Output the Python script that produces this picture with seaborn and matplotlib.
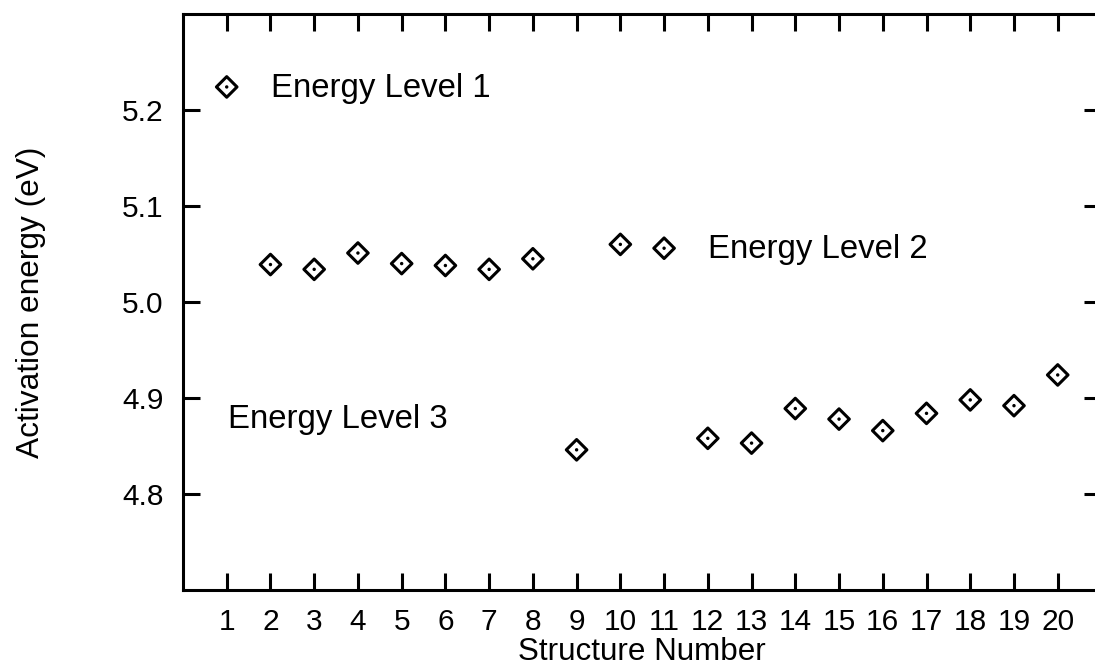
import matplotlib
matplotlib.use("Agg")
import matplotlib.pyplot as plt
import seaborn as sns
import pandas as pd

# Activation energy for each structure
structure = list(range(1, 21))
energy_ev = [5.224, 5.039, 5.034, 5.051, 5.040, 5.038, 5.034, 5.045, 4.846, 5.060,
             5.056, 4.858, 4.853, 4.889, 4.878, 4.866, 4.884, 4.898, 4.892, 4.924]
x_ticks = list(range(1, 21))
y_ticks = [4.8, 4.9, 5.0, 5.1, 5.2]
level_labels = ["Energy Level 1", "Energy Level 2", "Energy Level 3"]
level_pos = [(2.02, 5.222), (12.01, 5.055), (1.04, 4.878)]

df = pd.DataFrame({"structure": structure, "energy": energy_ev})

sns.set_style("ticks")
plt.rcParams["font.family"] = ["Liberation Sans", "DejaVu Sans"]
plt.rcParams["text.color"] = "black"
plt.rcParams["axes.labelcolor"] = "black"

fig = plt.figure(figsize=(10.95, 6.69), dpi=100)
ax = fig.add_axes([0.1671, 0.1181, 0.8388, 0.8610])

# open diamonds with a small dot at the centre
sns.scatterplot(data=df, x="structure", y="energy", ax=ax, marker="D", s=110,
                facecolors="none", edgecolor="black", linewidth=2.2, zorder=3)
sns.scatterplot(data=df, x="structure", y="energy", ax=ax, marker="o", s=6,
                color="black", edgecolor="none", zorder=4)

for label, (tx, ty) in zip(level_labels, level_pos):
    ax.text(tx, ty, label, fontsize=23.7, va="center", ha="left", color="black")

ax.set_xlim(0, 21)
ax.set_ylim(4.7, 5.3)
ax.set_xticks(x_ticks)
ax.set_xticklabels([str(v) for v in x_ticks])
ax.set_yticks(y_ticks)
ax.set_yticklabels([f"{v:.1f}" for v in y_ticks])

for side in ["left", "right", "top", "bottom"]:
    ax.spines[side].set_visible(True)
    ax.spines[side].set_linewidth(2.2)
    ax.spines[side].set_color("black")

ax.tick_params(axis="both", which="major", direction="in", length=12, width=2.2,
               labelsize=21.5, colors="black", top=True, right=True)
ax.tick_params(axis="x", pad=13)
ax.tick_params(axis="y", pad=14)

ax.set_xlabel("Structure Number", fontsize=22.6, labelpad=1, color="black")
ax.set_ylabel("Activation energy (eV)", fontsize=22.8, labelpad=55, color="black")

fig.savefig("out.png", dpi=100)
